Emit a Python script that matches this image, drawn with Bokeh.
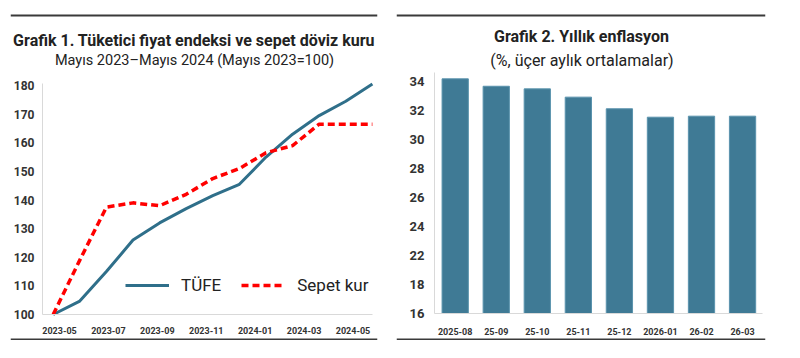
from bokeh.plotting import figure
from bokeh.models import (Range1d, LinearAxis, FixedTicker, Legend, LegendItem, Label, Span,
                          ColumnDataSource)
from bokeh.layouts import row
from bokeh.embed import file_html
from bokeh.resources import INLINE

# ---------------- data ----------------
months = ["2023-05", "2023-06", "2023-07", "2023-08", "2023-09", "2023-10", "2023-11",
          "2023-12", "2024-01", "2024-02", "2024-03", "2024-04", "2024-05"]
tufe = [100, 104.7, 115, 126, 132, 137, 141.5, 145.5, 155, 163, 169.5, 174.5, 180.5]
sepet_kur = [100, 119, 137.5, 139, 138, 142, 147.5, 151, 156.5, 159, 166.5, 166.5, 166.5]
x_tick_labels_1 = ["2023-05", "2023-07", "2023-09", "2023-11", "2024-01", "2024-03", "2024-05"]
y_ticks_1 = [100, 110, 120, 130, 140, 150, 160, 170, 180]

periods = ["2025-08", "25-09", "25-10", "25-11", "25-12", "2026-01", "26-02", "26-03"]
inflation = [34.15, 33.64, 33.46, 32.89, 32.09, 31.51, 31.58, 31.58]
y_ticks_2 = [18, 20, 22, 24, 26, 28, 30, 32, 34]
y_tick_labels_2 = ["16", "18", "22", "24", "26", "28", "30", "32", "34"]

title_1 = "Grafik 1. Tüketici fiyat endeksi ve sepet döviz kuru"
subtitle_1 = "Mayıs 2023–Mayıs 2024 (Mayıs 2023=100)"
title_2 = "Grafik 2. Yıllık enflasyon"
subtitle_2 = "(%, üçer aylık ortalamalar)"

TEAL = "#2F6F8A"
BAR = "#3F7A95"
RED = "#FF0000"
FONT = "Roboto"
LBL = "#333333"
AXC = "#d9d9d9"
RULE = "#3a3a3a"
TXT = "#222222"

H = 340  # canvas height


class PixMap:
    """maps pixel positions inside a figure canvas to data units (layout helper)"""
    def __init__(self, fx0, fx1, x_at, x_px_per, y_at, y_px, y_px_per, x0_px=0):
        self.fx0, self.fx1 = fx0, fx1
        self.x_at, self.x_px_per = x_at, x_px_per
        self.y_at, self.y_px, self.y_px_per = y_at, y_px, y_px_per
        self.x0_px = x0_px

    def x(self, px):
        return self.x_at + (px - self.x0_px) / self.x_px_per

    def y(self, py):
        return self.y_at + (self.y_px - py) / self.y_px_per


def style_axis(ax, size, standoff):
    ax.axis_line_color = AXC
    ax.axis_line_width = 1
    ax.major_tick_line_color = None
    ax.minor_tick_line_color = None
    ax.major_tick_out = 0
    ax.major_tick_in = 0
    ax.major_label_text_font = FONT
    ax.major_label_text_font_size = size
    ax.major_label_text_font_style = "bold"
    ax.major_label_text_color = LBL
    ax.major_label_standoff = standoff


def add_text(p, x, y, text, size, style):
    p.add_layout(Label(x=x, y=y, text=text, text_font=FONT, text_font_size=size,
                       text_font_style=style, text_color=TXT, text_align="center",
                       text_baseline="middle"))


def add_rule(p, y):
    p.add_layout(Span(location=y, dimension="width", line_color=RULE, line_width=2))


# ---------------- chart 1 ----------------
W1 = 390
m1 = PixMap(10, 377, 0, 26.6, 100, 314, 2.8625, x0_px=52.7)
x_idx = list(range(len(months)))
p1 = figure(width=W1, height=H, output_backend="svg", toolbar_location=None,
            x_range=Range1d(m1.x(m1.fx0), m1.x(m1.fx1)), y_range=Range1d(m1.y(H), m1.y(0)),
            x_axis_location=None, min_border_left=m1.fx0, min_border_right=W1 - m1.fx1,
            min_border_top=0, min_border_bottom=0)
p1.outline_line_color = None
p1.grid.visible = False
p1.yaxis.ticker = FixedTicker(ticks=y_ticks_1)
p1.yaxis.fixed_location = m1.x(42)
p1.yaxis.bounds = (y_ticks_1[0], m1.y(83))
style_axis(p1.yaxis[0], "12px", 8)

lab_px0, lab_step = 59, 48.92
p1.extra_x_ranges = {"lab": Range1d((m1.fx0 - lab_px0) / lab_step, (m1.fx1 - lab_px0) / lab_step)}
xa = LinearAxis(x_range_name="lab", ticker=FixedTicker(ticks=list(range(len(x_tick_labels_1)))),
                major_label_overrides={i: s for i, s in enumerate(x_tick_labels_1)},
                fixed_location=y_ticks_1[0],
                bounds=((42 - lab_px0) / lab_step, (372 - lab_px0) / lab_step))
style_axis(xa, "9px", 12)
p1.add_layout(xa, "below")

r_tufe = p1.line(x_idx, tufe, line_color=TEAL, line_width=3)
r_kur = p1.line(x_idx, sepet_kur, line_color=RED, line_width=3.5, line_dash="7 4")

leg = Legend(items=[LegendItem(label="TÜFE", renderers=[r_tufe]),
                    LegendItem(label="Sepet kur", renderers=[r_kur])],
             orientation="horizontal", location=(115, 45), glyph_width=44,
             label_standoff=12, spacing=20, padding=0, margin=0,
             border_line_color=None, background_fill_alpha=0,
             label_text_font=FONT, label_text_font_size="17px", label_text_color=TXT)
p1.add_layout(leg, "center")

add_text(p1, m1.x(193.5), m1.y(40), title_1, "16px", "bold")
add_text(p1, m1.x(194), m1.y(60), subtitle_1, "14.5px", "normal")
add_rule(p1, m1.y(15))
add_rule(p1, m1.y(339))

# ---------------- chart 2 ----------------
W2 = 390
X2 = 390  # left edge of chart 2 on the page
m2 = PixMap(6, 375, 0, 41.05, 18, 313, 14.53, x0_px=454.7 - X2)
xi = list(range(len(periods)))
p2 = figure(width=W2, height=H, output_backend="svg", toolbar_location=None,
            x_range=Range1d(m2.x(m2.fx0), m2.x(m2.fx1)), y_range=Range1d(m2.y(H), m2.y(0)),
            min_border_left=m2.fx0, min_border_right=W2 - m2.fx1,
            min_border_top=0, min_border_bottom=0)
p2.outline_line_color = None
p2.grid.visible = False
src = ColumnDataSource(dict(x=xi, top=inflation))
p2.vbar(x="x", top="top", bottom=y_ticks_2[0], width=0.64, source=src,
        fill_color=BAR, line_color="#5A93AD", line_width=1)
p2.yaxis.ticker = FixedTicker(ticks=y_ticks_2)
p2.yaxis.major_label_overrides = {v: s for v, s in zip(y_ticks_2, y_tick_labels_2)}
p2.yaxis.fixed_location = m2.x(434 - X2)
p2.yaxis.bounds = (y_ticks_2[0], m2.y(72))
style_axis(p2.yaxis[0], "13px", 10)
p2.xaxis.ticker = FixedTicker(ticks=xi)
p2.xaxis.major_label_overrides = {i: s for i, s in enumerate(periods)}
p2.xaxis.fixed_location = y_ticks_2[0]
p2.xaxis.bounds = (m2.x(434 - X2), m2.x(762 - X2))
style_axis(p2.xaxis[0], "9px", 14)

add_text(p2, m2.x(581 - X2), m2.y(36), title_2, "16px", "bold")
add_text(p2, m2.x(581.5 - X2), m2.y(60), subtitle_2, "16px", "normal")
add_rule(p2, m2.y(15))
add_rule(p2, m2.y(339))

layout = row(p1, p2)

open("out.html", "w").write(file_html(layout, INLINE))
